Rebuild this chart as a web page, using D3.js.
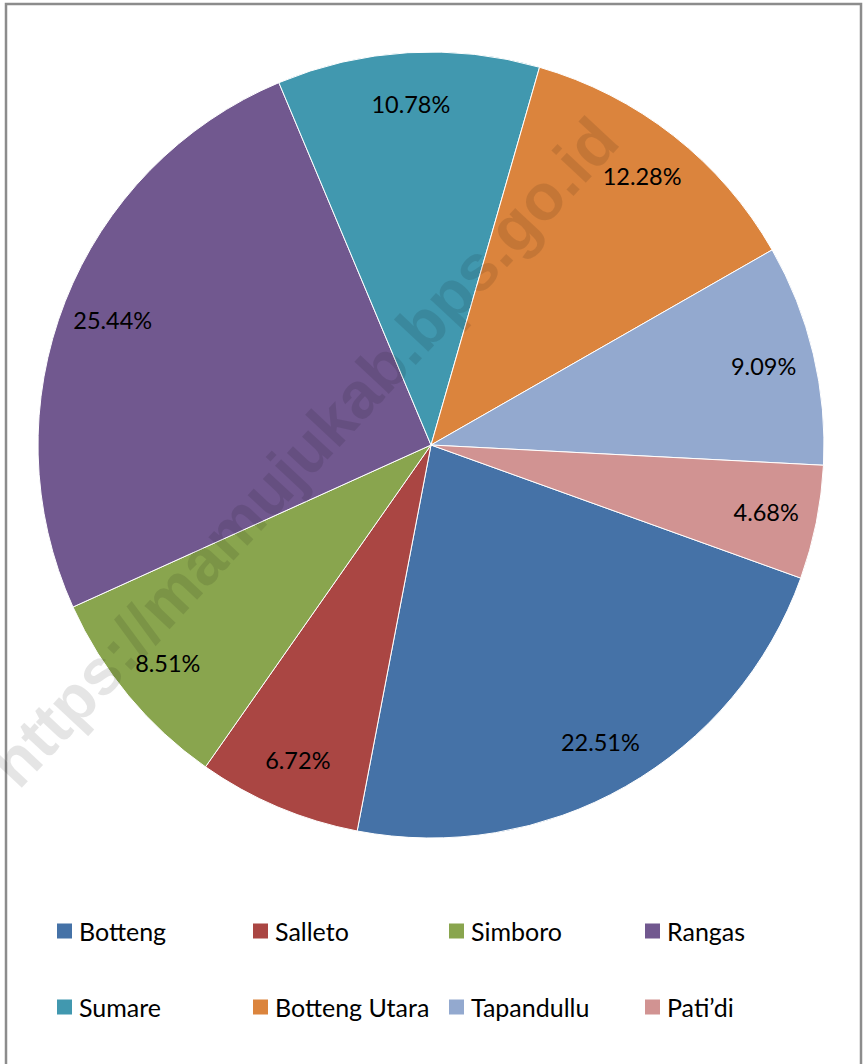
<!DOCTYPE html>
<html>
<head>
<meta charset="utf-8">
<script src="https://cdn.jsdelivr.net/npm/d3@7/dist/d3.min.js"></script>
<style>
  html, body { margin: 0; padding: 0; background: #fff; }
  svg { display: block; }
</style>
</head>
<body>
<svg id="chart" width="863" height="1064"></svg>
<script>
const categories = ["Botteng", "Salleto", "Simboro", "Rangas", "Sumare", "Botteng Utara", "Tapandullu", "Pati\u2019di"];
const values = [22.51, 6.72, 8.51, 25.44, 10.78, 12.28, 9.09, 4.68];
const colors = ["#4572A7", "#AA4643", "#89A54E", "#71588F", "#4198AF", "#DB843D", "#93A9CF", "#D19392"];
const watermark = "https://mamujukab.bps.go.id";

const svg = d3.select("#chart");
const font = "Lato, 'Open Sans', sans-serif";

// frame
svg.append("rect")
  .attr("x", 6).attr("y", 4).attr("width", 855).attr("height", 1075)
  .attr("fill", "#fff").attr("stroke", "#8c8c8c").attr("stroke-width", 2.5);

const cx = 431, cy = 445, R = 393;
const startDeg = 109.8;
const start = startDeg * Math.PI / 180;

const data = categories.map((c, i) => ({ name: c, value: values[i], color: colors[i] }));

const pie = d3.pie().value(d => d.value).sort(null)
  .startAngle(start).endAngle(start + 2 * Math.PI);
const arcs = pie(data);

const arc = d3.arc().innerRadius(0).outerRadius(R);
const labelArc = d3.arc().innerRadius(R * 0.87).outerRadius(R * 0.87);

const g = svg.append("g").attr("transform", `translate(${cx},${cy})`);

g.selectAll("path.slice").data(arcs).join("path")
  .attr("class", "slice")
  .attr("d", arc)
  .attr("fill", d => d.data.color)
  .attr("stroke", "#fff")
  .attr("stroke-width", 1)
  .attr("stroke-linejoin", "round");

g.selectAll("text.lbl").data(arcs).join("text")
  .attr("class", "lbl")
  .attr("transform", d => `translate(${labelArc.centroid(d)})`)
  .attr("text-anchor", "middle")
  .attr("dominant-baseline", "central")
  .attr("font-family", font)
  .attr("font-size", 23.5)
  .attr("fill", "#000")
  .text(d => d3.format(".2f")(d.data.value) + "%");

// legend
const legendCols = [57, 253, 449, 645];
const legendRows = [931, 1007];
const lg = svg.append("g");
data.forEach((d, i) => {
  const x = legendCols[i % 4];
  const y = legendRows[Math.floor(i / 4)];
  lg.append("rect")
    .attr("x", x).attr("y", y - 7.5).attr("width", 15).attr("height", 15)
    .attr("fill", d.color);
  lg.append("text")
    .attr("x", x + 22).attr("y", y)
    .attr("dominant-baseline", "central")
    .attr("font-family", font)
    .attr("font-size", 25)
    .attr("fill", "#000")
    .text(d.name);
});

// watermark
svg.append("text")
  .attr("transform", "translate(304,452) rotate(-47)")
  .attr("text-anchor", "middle")
  .attr("dominant-baseline", "central")
  .attr("font-family", "'Liberation Sans', Arial, sans-serif")
  .attr("font-weight", "bold")
  .attr("font-size", 65)
  .attr("fill", "#000")
  .attr("fill-opacity", 0.1)
  .text(watermark);
</script>
</body>
</html>
